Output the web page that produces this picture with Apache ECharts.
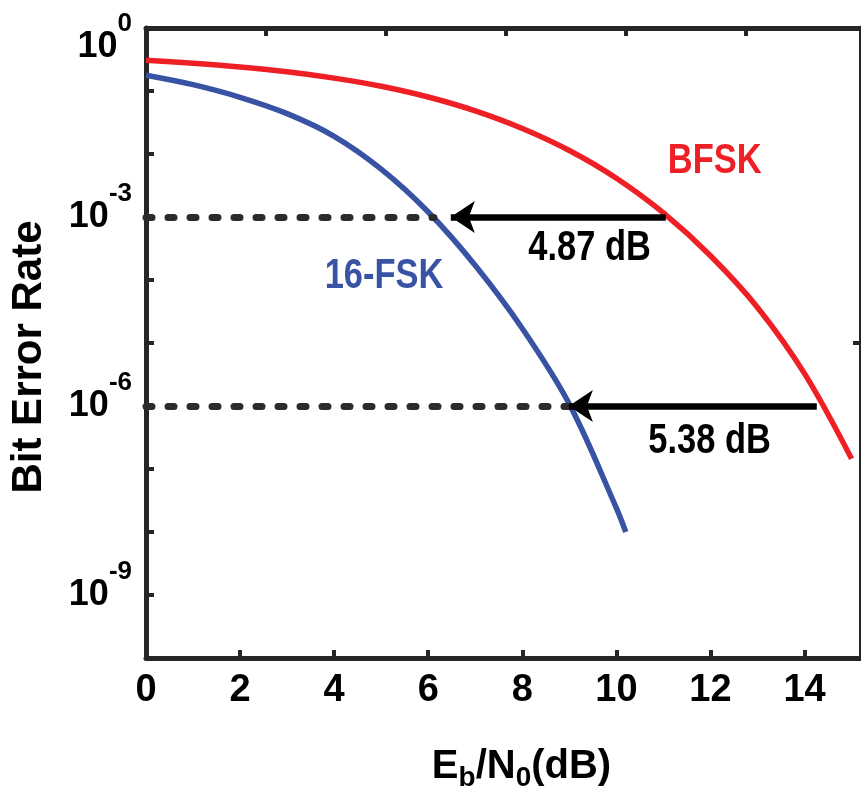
<!DOCTYPE html>
<html><head><meta charset="utf-8">
<script src="https://cdn.jsdelivr.net/npm/echarts@6/dist/echarts.min.js"></script>
<style>html,body{margin:0;padding:0;background:#fff}#c{width:861px;height:803px}</style>
</head><body><div id="c"></div>
<script>
// ---- data ----
const ebn0Bfsk = [0, 1, 2, 3, 4, 5, 6, 7, 8, 9, 10, 11, 12, 13, 14, 15];
const berBfsk  = [3.09e-1, 2.75e-1, 2.40e-1, 2.02e-1, 1.60e-1, 1.19e-1, 8.03e-2, 4.84e-2, 2.54e-2, 1.135e-2, 4.12e-3, 1.16e-3, 2.43e-4, 3.67e-5, 3.27e-6, 1.46e-7];
const ebn0Fsk16 = [0, 1, 2, 3, 4, 5, 6, 7, 8, 9, 10, 10.2];
const berFsk16  = [1.78e-1, 1.26e-1, 7.94e-2, 4.37e-2, 1.91e-2, 5.75e-3, 1.2e-3, 1.70e-4, 1.70e-5, 1.07e-6, 2.4e-8, 1.0e-8];
const seriesNames = ['BFSK', '16-FSK'];
const xTickLabels = ['0', '2', '4', '6', '8', '10', '12', '14'];
const yLabelExponents = [0, -3, -6, -9];
// reference levels and gains
const refBer = [1e-3, 1e-6];
const fsk16AtRef = [6.12, 8.97];
const bfskAtRef = [11.05, 14.26];
const arrowTipAt = [6.48, 8.99];
const gainTexts = ['4.87 dB', '5.38 dB'];
const gainTextAt = [[9.43, 3.2e-4], [11.98, 2.7e-7]];
const nameTextAt = [[12.09, 7.5e-3], [5.06, 1.15e-4]];

// ---- styling ----
const FONT = '"Liberation Sans", Arial, sans-serif';
const AX = '#262626';
const RED = '#ee2026';
const BLUE = '#3953a4';

const zip = (xs, ys) => xs.map((x, i) => [x, ys[i]]);

const axisCommon = {
  axisLine: {show: true, onZero: false, lineStyle: {color: AX, width: 5}},
  axisTick: {show: true, inside: true, length: 8, lineStyle: {color: AX, width: 4}},
  splitLine: {show: false}
};

const txt = (size, extra) => Object.assign({fontSize: size, fontWeight: 'bold', fontFamily: FONT, color: '#000'}, extra || {});
const supRich = {
  b: txt(36, {verticalAlign: 'bottom', padding: [0, 0, 18, 0]}),
  s: txt(26, {verticalAlign: 'bottom', padding: [0, 0, 46, 0]}),
  s0: txt(26, {verticalAlign: 'bottom', padding: [38, 0, 46, 0]})
};

const option = {
  animation: false,
  backgroundColor: '#fff',
  grid: {left: 143, right: -3, top: 28, bottom: 145, containLabel: false},
  xAxis: [
    Object.assign({}, axisCommon, {
      type: 'value', position: 'bottom', min: 0, max: 15.2, interval: 2,
      axisLabel: Object.assign(txt(38), {
        show: true, margin: 14, showMaxLabel: false,
        formatter: v => { const i = Math.round(v / 2); return (Math.abs(v - i * 2) < 1e-6 && xTickLabels[i] !== undefined) ? xTickLabels[i] : ''; }
      }),
      name: 'E{sub|b}/N{sub|0}(dB)',
      nameLocation: 'middle', nameGap: 84,
      nameTextStyle: Object.assign(txt(40), {
        padding: [0, 0, 0, 36],
        rich: {sub: txt(28, {verticalAlign: 'top', padding: [22, 0, 0, 0]})}
      })
    }),
    Object.assign({}, axisCommon, {
      type: 'value', position: 'top', min: 0, max: 15.2, interval: 2.55,
      axisLabel: {show: false}
    })
  ],
  yAxis: [
    Object.assign({}, axisCommon, {
      type: 'log', logBase: 10, min: 1e-10, max: 1, interval: 1, position: 'left',
      axisLabel: {
        show: true, margin: 14,
        formatter: v => {
          const e = Math.round(Math.log10(v));
          if (yLabelExponents.indexOf(e) < 0) return '';
          return e === 0 ? '{b|10}{s0|' + e + '}' : '{b|10}{s|' + e + '}';
        },
        rich: supRich
      },
      name: 'Bit Error Rate', nameLocation: 'middle', nameRotate: 90, nameGap: 96,
      nameTextStyle: Object.assign(txt(42), {padding: [0, 28, 0, 0]})
    }),
    Object.assign({}, axisCommon, {
      type: 'log', logBase: 10, min: 1e-10, max: 1, interval: 5, position: 'right',
      axisLabel: {show: false}
    })
  ],
  series: [
    {
      name: seriesNames[0], type: 'line', data: zip(ebn0Bfsk, berBfsk),
      smooth: 0.35, showSymbol: false, symbol: 'none',
      lineStyle: {color: RED, width: 5.5}, z: 3
    },
    {
      name: seriesNames[1], type: 'line', data: zip(ebn0Fsk16, berFsk16),
      smooth: 0.35, showSymbol: false, symbol: 'none',
      lineStyle: {color: BLUE, width: 5.5}, z: 3
    },
    // arrows and dashed reference lines
    {
      type: 'line', data: [], silent: true,
      markLine: {
        silent: true, animation: false,
        label: {show: false},
        data: [
          ...refBer.map((b, i) => [
            {coord: [0, b], symbol: 'none', lineStyle: {color: '#2b2b2b', width: 7, type: [6, 16], cap: 'round'}},
            {coord: [fsk16AtRef[i], b], symbol: 'none'}
          ]),
          ...refBer.map((b, i) => [
            {coord: [bfskAtRef[i], b], symbol: 'none', lineStyle: {color: '#000', width: 6.5, type: 'solid'}},
            {coord: [arrowTipAt[i], b], symbol: 'arrow', symbolSize: [24, 24]}
          ])
        ]
      }, z: 4
    }
  ]
};

const chart = echarts.init(document.getElementById('c'), null, {renderer: 'canvas'});
chart.setOption(option);

// annotation texts placed through the chart's own scales
const P = c => chart.convertToPixel({xAxisIndex: 0, yAxisIndex: 0}, c);
const mkText = (t, c, color) => {
  const p = P(c);
  return {
    type: 'text', x: p[0], y: p[1], scaleX: 0.82, z: 10, silent: true,
    style: {text: t, fill: color, font: 'bold 42px "Liberation Sans", Arial, sans-serif', align: 'center', verticalAlign: 'middle'}
  };
};
chart.setOption({
  graphic: [
    ...gainTexts.map((t, i) => mkText(t, gainTextAt[i], '#000')),
    ...seriesNames.map((t, i) => mkText(t, nameTextAt[i], i === 0 ? RED : BLUE))
  ]
});
</script>
</body></html>
